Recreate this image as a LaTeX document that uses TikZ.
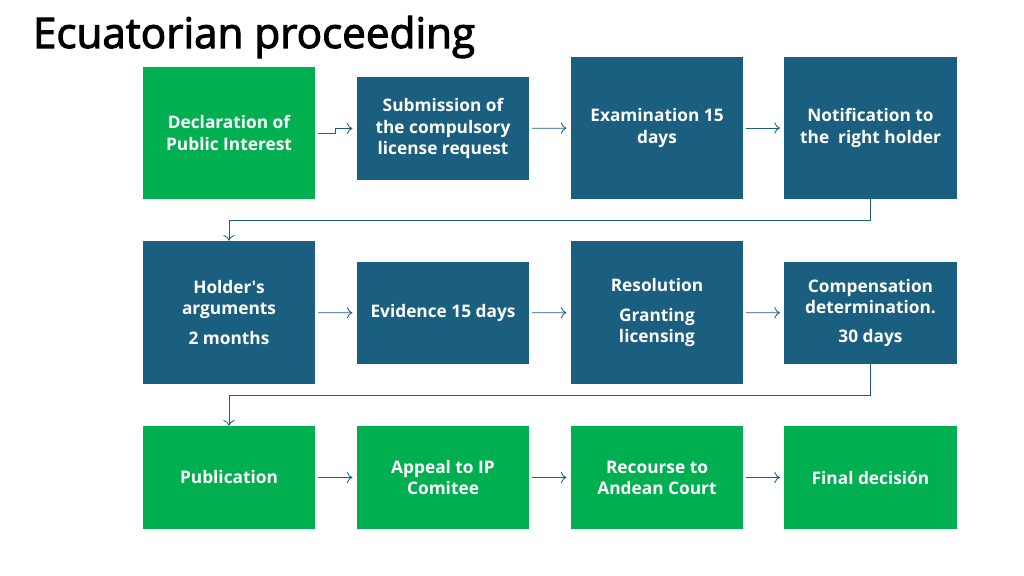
\documentclass[tikz,border=0pt]{standalone}
\usepackage{fontspec}
\setmainfont{Open Sans}
\newfontfamily\titlefont[FakeBold=2.5]{Open Sans}
\usetikzlibrary{calc,arrows.meta}
\definecolor{declgreen}{HTML}{00B050}
\definecolor{stepblue}{HTML}{1A5E80}
\tikzset{
	box/.style={rectangle, minimum width=4.3cm, inner sep=0pt, align=center,
		text=white, font=\fontsize{12.3}{15}\selectfont\bfseries},
	greenbox/.style={box, fill=declgreen},
	bluebox/.style={box, fill=stepblue},
	flow/.style={-{To[length=4pt, width=8pt]}, draw=stepblue, line width=0.6pt}
}

\begin{document}
\begin{tikzpicture}[x=0.025cm, y=-0.025cm]
			%%%%% START %%%%%
			\useasboundingbox (0, 0) rectangle (1024, 576);
			
			\node[anchor=base west, font=\titlefont\fontsize{30}{33}\selectfont] (title) at (28, 48) {Ecuatorian proceeding};
			
			% first row
			\node[greenbox, minimum height=3.3cm] (decl) at (229, 133) {Declaration of\\Public Interest};
			\node[bluebox, minimum height=2.575cm] (subm) at (443, 128.5) {Submission of\\the compulsory\\license request};
			\node[bluebox, minimum height=3.55cm] (exam) at (657, 128) {Examination 15\\days};
			\node[bluebox, minimum height=3.55cm] (notif) at (870.5, 128) {Notification to\\the\ \ right holder};
			
			% second row
			\node[bluebox, minimum height=3.575cm] (holder) at (229, 312.5) {Holder\textquotesingle s\\arguments\\[6pt]2 months};
			\node[bluebox, minimum height=2.55cm] (evid) at (443, 313) {Evidence 15 days};
			\node[bluebox, minimum height=3.575cm] (resol) at (657, 312.5) {Resolution\\[6pt]Granting\\licensing};
			\node[bluebox, minimum height=2.55cm] (comp) at (870.5, 313) {Compensation\\determination.\\[6pt]30 days};
			
			% third row
			\node[greenbox, minimum height=2.575cm] (publ) at (229, 477.5) {Publication};
			\node[greenbox, minimum height=2.575cm] (appeal) at (443, 477.5) {Appeal to IP\\Comitee};
			\node[greenbox, minimum height=2.575cm] (recourse) at (657, 477.5) {Recourse to\\Andean Court};
			\node[greenbox, minimum height=2.575cm] (final) at (870.5, 477.5) {Final decisión};
			
			% arrows
			\draw[flow, shorten <=2pt, shorten >=3pt] (decl.east) -- ++(20, 0) |- (subm.west);
			\draw[flow, shorten <=2pt, shorten >=3pt] (subm) -- (exam);
			\draw[flow, shorten <=2pt, shorten >=3pt] (exam) -- (notif);
			\draw[flow] (notif.south) -- ++(0, 21) -| (holder.north);
			
			\draw[flow, shorten <=2pt, shorten >=3pt] (holder) -- (evid);
			\draw[flow, shorten <=2pt, shorten >=3pt] (evid) -- (resol);
			\draw[flow, shorten <=2pt, shorten >=3pt] (resol) -- (comp);
			\draw[flow] (comp.south) -- ++(0, 31) -| (publ.north);
			
			\draw[flow, shorten <=2pt, shorten >=3pt] (publ) -- (appeal);
			\draw[flow, shorten <=2pt, shorten >=3pt] (appeal) -- (recourse);
			\draw[flow, shorten <=2pt, shorten >=3pt] (recourse) -- (final);
			%%%%% END %%%%%
\end{tikzpicture}
\end{document}
